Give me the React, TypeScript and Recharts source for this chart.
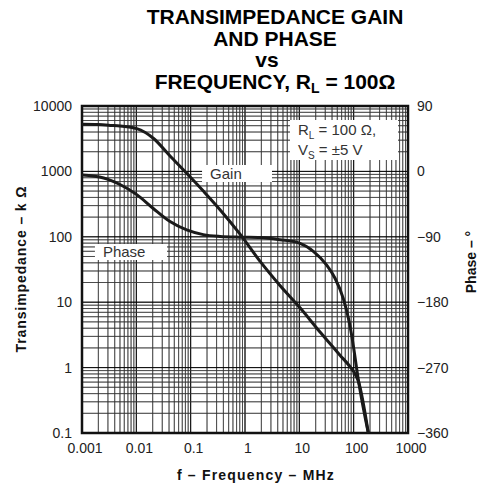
import React from "react";
import {
  ComposedChart,
  Line,
  XAxis,
  YAxis,
  ReferenceArea,
} from "recharts";

// ---------- data ----------
const gainFreq = [0.001, 0.002, 0.0035, 0.005, 0.0102, 0.0205, 0.0417, 0.0845, 0.171, 0.347, 0.81, 1.9, 4.4, 10.3, 24, 42, 56, 86, 106, 122, 186];
const gainKOhm = [5250, 5200, 5050, 4940, 4500, 3210, 1720, 935, 500, 260, 110, 42, 18, 8.2, 3.5, 2.05, 1.55, 1.03, 0.8, 0.62, 0.1];

const phaseFreq = [0.001, 0.0025, 0.005, 0.0102, 0.0205, 0.0417, 0.0845, 0.171, 0.347, 0.81, 1.9, 4.41, 10.3, 18.1, 31.9, 45.4, 64.5, 80, 91.7, 98.6, 122, 186];
const phaseDeg = [-5, -9, -18, -32, -51, -69, -80.5, -87, -89.5, -90.5, -91, -94, -99, -110, -129, -147, -175, -202, -225, -240, -287, -360];

const freqTicks = [0.001, 0.01, 0.1, 1, 10, 100, 1000];
const freqTickLabels = ["0.001", "0.01", "0.1", "1", "10", "100", "1000"];
const gainTicks = [0.1, 1, 10, 100, 1000, 10000];
const gainTickLabels = ["0.1", "1", "10", "100", "1000", "10000"];
const phaseTicks = [-360, -270, -180, -90, 0, 90];
const phaseTickLabels = ["\u2212360", "\u2212270", "\u2212180", "\u221290", "0", "90"];

const xDecades = [0.001, 0.01, 0.1, 1, 10, 100];
const yDecades = [0.1, 1, 10, 100, 1000];
const gridMultipliers = [1, 2, 3, 4, 5, 6, 7, 8, 9];

const gainData = gainFreq.map((f, i) => ({ f, v: gainKOhm[i] }));
const phaseData = phaseFreq.map((f, i) => ({ f, p: phaseDeg[i] }));

const gridX = xDecades
  .flatMap((d) => gridMultipliers.map((m) => ({ v: Number((d * m).toPrecision(3)), major: m === 1 })))
  .filter((g) => g.v > 0.001);
const gridY = yDecades
  .flatMap((d) => gridMultipliers.map((m) => ({ v: Number((d * m).toPrecision(3)), major: m === 1 })))
  .filter((g) => g.v > 0.1);

// annotation boxes (data coordinates)
const gainBox = { x1: 0.162, x2: 3.14, y1: 689, y2: 1253 };
const phaseBox = { x1: 0.00173, x2: 0.0367, y1: 44.2, y2: 77.6 };
const condBox = { x1: 6.73, x2: 655, y1: 1493, y2: 6110 };

const FONT = "'Liberation Sans', Arial, Helvetica, sans-serif";
const fmt = (list: number[], labels: string[]) => (v: number) => {
  const i = list.findIndex((t) => Math.abs(t - v) < 1e-9 * Math.max(1, Math.abs(t)));
  return i >= 0 ? labels[i] : String(v);
};

const simpleLabel = (text: string) => (props: any) => {
  const vb = props.viewBox || {};
  return (
    <text
      x={vb.x + 8}
      y={vb.y + vb.height / 2}
      dominantBaseline="central"
      fontFamily={FONT}
      fontSize={15}
      fill="#333"
    >
      {text}
    </text>
  );
};

const condLabel = (props: any) => {
  const vb = props.viewBox || {};
  const x = vb.x + 8;
  return (
    <g fontFamily={FONT} fontSize={15} fill="#333">
      <text x={x} y={vb.y + 15}>
        <tspan>R</tspan>
        <tspan dy={4} fontSize={10}>L</tspan>
        <tspan dy={-4}>{"  =  100 \u03A9,"}</tspan>
      </text>
      <text x={x} y={vb.y + 35}>
        <tspan>V</tspan>
        <tspan dy={4} fontSize={10}>S</tspan>
        <tspan dy={-4}>{"  = \u00B15 V"}</tspan>
      </text>
    </g>
  );
};

export default function App() {
  return (
    <div style={{ position: "absolute", left: 0, top: 0, width: 486, height: 487, background: "#fff" }}>
      <ComposedChart width={486} height={487} margin={{ top: 106, right: 0, bottom: 24, left: 0 }}>
        <XAxis
          dataKey="f"
          type="number"
          scale="log"
          domain={[0.001, 1000]}
          allowDataOverflow
          ticks={freqTicks}
          tickFormatter={fmt(freqTicks, freqTickLabels)}
          tickLine={false}
          axisLine={false}
          tickMargin={4}
          height={30}
          tick={{ fill: "#222", fontSize: 14, fontFamily: FONT, dx: 3 }}
        />
        <YAxis
          yAxisId="left"
          type="number"
          scale="log"
          domain={[0.1, 10000]}
          allowDataOverflow
          ticks={gainTicks}
          tickFormatter={fmt(gainTicks, gainTickLabels)}
          tickLine={false}
          axisLine={false}
          tickMargin={4}
          width={82}
          tick={{ fill: "#222", fontSize: 14, fontFamily: FONT }}
        />
        <YAxis
          yAxisId="right"
          orientation="right"
          type="number"
          domain={[-360, 90]}
          allowDataOverflow
          ticks={phaseTicks}
          tickFormatter={fmt(phaseTicks, phaseTickLabels)}
          tickLine={false}
          axisLine={false}
          tickMargin={3}
          width={78}
          tick={{ fill: "#222", fontSize: 14, fontFamily: FONT }}
        />
        {gridX.map((g) => (
          <ReferenceArea
            key={"gx" + g.v}
            yAxisId="left"
            x1={g.v}
            x2={g.v * 1.00002}
            y1={0.1}
            y2={10000}
            fill="none"
            stroke={g.major ? "#000" : "#333"}
            strokeWidth={g.major ? 0.8 : 0.65}
          />
        ))}
        {gridY.map((g) => (
          <ReferenceArea
            key={"gy" + g.v}
            yAxisId="left"
            x1={0.001}
            x2={1000}
            y1={g.v}
            y2={g.v * 1.00002}
            fill="none"
            stroke={g.major ? "#000" : "#333"}
            strokeWidth={g.major ? 0.8 : 0.65}
          />
        ))}
        <ReferenceArea yAxisId="left" {...gainBox} fill="#fff" fillOpacity={1} stroke="none" label={simpleLabel("Gain")} />
        <ReferenceArea yAxisId="left" {...phaseBox} fill="#fff" fillOpacity={1} stroke="none" label={simpleLabel("Phase")} />
        <ReferenceArea yAxisId="left" {...condBox} fill="#fff" fillOpacity={1} stroke="none" label={condLabel} />
        <Line
          data={gainData}
          dataKey="v"
          yAxisId="left"
          type="monotone"
          stroke="#1a1a1a"
          strokeWidth={3}
          dot={false}
          isAnimationActive={false}
        />
        <Line
          data={phaseData}
          dataKey="p"
          yAxisId="right"
          type="monotone"
          stroke="#1a1a1a"
          strokeWidth={3}
          dot={false}
          isAnimationActive={false}
        />
        <ReferenceArea
          yAxisId="left"
          x1={0.001}
          x2={1000}
          y1={0.1}
          y2={10000}
          fill="none"
          stroke="#111"
          strokeWidth={2.5}
        />
      </ComposedChart>
      <svg
        width={486}
        height={487}
        style={{ position: "absolute", left: 0, top: 0, pointerEvents: "none" }}
      >
        <g fontFamily={FONT} fontWeight="bold" fill="#000" textAnchor="middle" fontSize={21}>
          <text x={275} y={24}>TRANSIMPEDANCE GAIN</text>
          <text x={275} y={46}>AND PHASE</text>
          <text x={267} y={67}>vs</text>
          <text x={275} y={89}>
            <tspan>FREQUENCY, R</tspan>
            <tspan dy={4} fontSize={14}>L</tspan>
            <tspan dy={-4}>{" = 100\u03A9"}</tspan>
          </text>
        </g>
        <g fontFamily={FONT} fontWeight="bold" fill="#111" textAnchor="middle" fontSize={14}>
          <text x={256} y={480} letterSpacing={1.2}>f – Frequency – MHz</text>
          <text x={26} y={269} transform="rotate(-90 26 269)" letterSpacing={0.9}>Transimpedance – k Ω</text>
          <text x={476} y={262} transform="rotate(-90 476 262)">Phase – °</text>
        </g>
      </svg>
    </div>
  );
}
